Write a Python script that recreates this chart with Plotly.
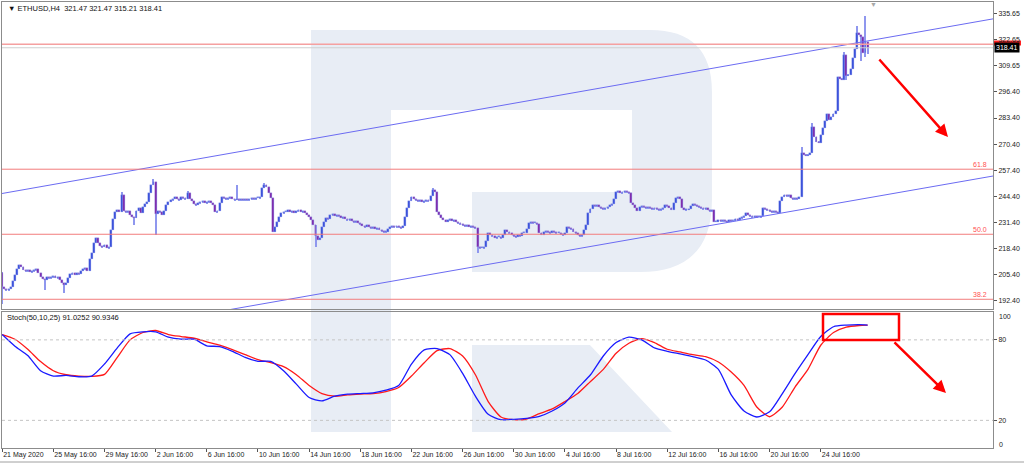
import pandas as pd
import plotly.graph_objects as go

# ---------------- data ----------------
HEADER = "\u25bc ETHUSD,H4\u00a0 321.47 321.47 315.21 318.41"
STOCH_HEADER = "Stoch(50,10,25) 91.0252 90.9346"
LAST_BAR_TIME = "2020-07-28 08:00"
FIRST_OPEN = 206.0

CLOSE = [
    199, 198, 197.5, 198, 199, 202, 205, 208, 210, 209,
    207.5, 207, 207.5, 206.5, 207, 207.5, 208, 206, 204, 203,
    202.5, 204, 203.5, 204, 204.5, 203.5, 204, 202.5, 201, 200,
    201, 203.5, 205.5, 206, 205, 206, 205.5, 207, 208, 208.5,
    207, 213, 216, 221, 223.5, 221, 219.5, 219, 220, 218.5,
    219, 227.5, 233, 236.5, 237.5, 236.5, 245, 237, 236.5, 237,
    235, 234, 233.5, 237, 238.5, 236, 239, 240.5, 241.5, 246,
    250, 251.5, 235.5, 237, 236.5, 235, 237, 240, 241.5, 242.5,
    243, 244, 243, 242.5, 244, 243.5, 243, 246, 243, 242,
    240.5, 240, 241, 241.5, 242, 241, 241.5, 242, 241, 240,
    236.5, 237, 241, 244, 243.5, 243, 243.5, 244, 243, 242.5,
    243, 242.5, 243, 242.5, 243, 242.5, 243, 243.5, 243, 243.5,
    243.5, 244, 248.5, 250, 249, 246, 243.5, 226.5, 229, 231.5,
    234, 236, 236.5, 236.5, 237.5, 236.5, 237, 236, 237, 237.5,
    236.5, 237, 236, 235, 234, 232.5, 230, 224.5, 222.5, 223.5,
    229, 231.5, 233.5, 233, 235, 235.5, 234.5, 235, 234.5, 233.5,
    234, 233, 232.5, 233, 232, 231.5, 232, 231, 230.5, 229.5,
    229, 230, 229, 228.5, 229, 228, 228.5, 227.5, 227, 226.5,
    226.8, 228, 229, 229.5, 229, 229.5, 229, 228.5, 229.5, 234,
    238.5, 242, 244, 243, 242.5, 242, 242.5, 241.5, 242, 242.5,
    242, 244.5, 247.5, 246.5, 236.5, 235, 233.5, 232.5, 231.5, 232.5,
    233, 232, 232.5, 231.5, 231, 230.5, 230, 229.5, 230, 229,
    229.5, 229, 228.5, 219, 218.5, 218.5, 219, 222, 226, 225,
    224.5, 223.5, 224, 224, 223.5, 225, 227.5, 226.5, 226, 225,
    224.5, 224, 225, 224.5, 226, 226, 228, 231, 231.5, 231,
    231, 230.5, 226, 225, 226.5, 227, 226.5, 226, 227, 226.5,
    226, 226, 225.5, 225, 226, 229, 228.5, 228, 226.5, 226,
    225, 224.5, 225, 227.5, 230, 236, 238, 240, 239.5, 240,
    239, 238.5, 238, 238.5, 239, 240, 240.5, 243, 246.5, 247,
    246, 246.5, 247, 246.5, 246, 241, 240, 238.5, 237, 239,
    239.5, 239, 238.5, 239, 238.5, 238, 238.5, 238, 237.5, 238,
    238.5, 240, 239.5, 238.5, 237.5, 241, 243.5, 244, 243, 238.5,
    237.5, 237.8, 238, 239.5, 240.5, 240, 239.5, 239, 238.5, 238,
    238.5, 237.5, 237, 237.5, 231.5, 231.5, 232.5, 232, 232.5, 232,
    231.5, 232.5, 232, 232, 233, 232.5, 233.5, 234, 234.5, 236,
    235, 234.5, 234, 234.5, 234, 234, 234.5, 238.5, 238, 237.5,
    237, 236.5, 237, 236.5, 236, 242, 244, 245, 244.5, 245,
    243.5, 243, 243.5, 243, 244, 266, 265, 264.5, 265, 266,
    279, 274, 271.5, 271, 275, 278.5, 282, 285.5, 282.5, 284,
    285.5, 287, 304, 303, 302.5, 315, 304.5, 305, 308, 313.5,
    318, 326, 325, 324, 316, 321.47, 318.41,
]
HIGH_WICKS = {0: 206.5, 56: 246.6, 71: 253.0, 87: 247.0, 110: 250.0, 123: 251.0,
              202: 248.5, 375: 269.0, 380: 281.0, 395: 316.5, 401: 329.0,
              405: 334.0, 406: 321.47}
LOW_WICKS = {0: 191.0, 20: 197.6, 29: 196.0, 62: 230.0, 72: 225.0, 147: 219.0,
             223: 216.0, 396: 302.5, 403: 312.0, 405: 314.0, 406: 315.21}

STOCH_MAIN = [84, 75.3, 68.3, 57, 53, 53.5, 52.5, 53, 62, 74, 84.5, 86, 86, 82,
              80.5, 80.5, 75.6, 75, 71.5, 67, 64, 64, 57, 47, 37, 34.5, 38, 39.5,
              40, 40.5, 42.5, 46, 62, 72.5, 73.5, 69, 55, 38, 24.5, 20.5, 20.8,
              21.5, 23, 27, 33, 44, 54, 68, 78, 82, 80, 74, 71.5, 69.5, 67.5, 65,
              58, 39, 27, 22.5, 26.4, 40, 55, 69, 82.5, 89.8, 91, 91.3, 91.03]
STOCH_SIGNAL = [84, 80.5, 73, 63.8, 57, 54, 53, 52.8, 54.3, 67, 80, 85.5, 87, 84,
                82.5, 81.2, 78.5, 76, 72.8, 69, 65.3, 63, 60, 54, 46, 40, 38, 39,
                39.6, 40, 41.5, 44.5, 53, 63, 72, 73.5, 68, 54, 34, 22.5, 20.5, 21,
                25, 28.5, 34, 40, 49, 58, 70, 77.5, 81, 78, 73, 71, 69, 67.5, 63.5,
                56, 46, 30, 22.7, 30, 45, 58, 76, 85.5, 89.5, 90.7, 90.93]

PRICE_TICKS = [192.40, 205.40, 218.40, 231.40, 244.40, 257.40, 270.40, 283.40,
               296.40, 309.65, 322.65, 335.65]
STOCH_TICKS = [20, 80]
STOCH_EDGE_LABELS = ["100", "0"]
TIME_TICKS = ["2020-05-21 16:00", "2020-05-25 16:00", "2020-05-29 16:00",
              "2020-06-02 16:00", "2020-06-06 16:00", "2020-06-10 16:00",
              "2020-06-14 16:00", "2020-06-18 16:00", "2020-06-22 16:00",
              "2020-06-26 16:00", "2020-06-30 16:00", "2020-07-04 16:00",
              "2020-07-08 16:00", "2020-07-12 16:00", "2020-07-16 16:00",
              "2020-07-20 16:00", "2020-07-24 16:00"]
TIME_LABELS = ["21 May 2020", "25 May 16:00", "29 May 16:00", "2 Jun 16:00",
               "6 Jun 16:00", "10 Jun 16:00", "14 Jun 16:00", "18 Jun 16:00",
               "22 Jun 16:00", "26 Jun 16:00", "30 Jun 16:00", "4 Jul 16:00",
               "8 Jul 16:00", "12 Jul 16:00", "16 Jul 16:00", "20 Jul 16:00",
               "24 Jul 16:00"]

FIB_NAMES = ["61.8", "50.0", "38.2"]
FIB_PRICES = [257.9, 225.5, 193.1]
ASK_LEVEL = 320.2
BID_LEVEL = 318.41
X_RANGE = ["2020-05-21 15:40", "2020-08-07 03:15"]
UPPER_CHANNEL = [245.8, 332.8]
LOWER_CHANNEL = [168.1, 254.5]

# ---------------- build ----------------
W, H = 1024, 464
ML, MR, MT, MB = 2, 31, 2, 16
PW, PH = W - ML - MR, H - MT - MB


def px(x):
    return (x - ML) / PW


def py(y):
    return (H - MB - y) / PH


def P(x, y):
    return f"{px(x):.4f},{py(y):.4f}"


dates = pd.date_range(end=LAST_BAR_TIME, periods=len(CLOSE), freq="4h")
opens = [FIRST_OPEN] + CLOSE[:-1]
highs = [max(o, c) for o, c in zip(opens, CLOSE)]
lows = [min(o, c) for o, c in zip(opens, CLOSE)]
for k, v in HIGH_WICKS.items():
    highs[k] = v
for k, v in LOW_WICKS.items():
    lows[k] = v

bar_ms = 4 * 3600 * 1000
body_base = [min(o, c) for o, c in zip(opens, CLOSE)]
body_h = [max(abs(c - o), 0.5) for o, c in zip(opens, CLOSE)]
body_col = ["#3049d8" if c >= o else "#7d1fa5" for o, c in zip(opens, CLOSE)]

fig = go.Figure()

# wicks
fig.add_trace(go.Bar(x=dates, y=[h - l for h, l in zip(highs, lows)], base=lows,
                     width=bar_ms * 0.5, marker=dict(color="#8f97ee", line=dict(width=0)),
                     hoverinfo="skip", xaxis="x", yaxis="y"))
# bodies (with a thin light outline, like the terminal's candle halo)
fig.add_trace(go.Bar(x=dates, y=body_h, base=body_base, width=bar_ms * 0.9,
                     marker=dict(color=body_col, line=dict(width=0.4, color="#9aa2f0")),
                     hoverinfo="skip", xaxis="x", yaxis="y"))

# channel lines
fig.add_trace(go.Scatter(x=X_RANGE, y=UPPER_CHANNEL, mode="lines",
                         line=dict(color="#6b6bf2", width=1), hoverinfo="skip",
                         xaxis="x", yaxis="y"))
fig.add_trace(go.Scatter(x=X_RANGE, y=LOWER_CHANNEL, mode="lines",
                         line=dict(color="#6b6bf2", width=1), hoverinfo="skip",
                         xaxis="x", yaxis="y"))

# stochastic
stoch_t = list(dates[::6]) + [dates[-1]]
fig.add_trace(go.Scatter(x=stoch_t, y=STOCH_SIGNAL, mode="lines",
                         line=dict(color="#ff1a1a", width=1.3, shape="spline", smoothing=0.6),
                         hoverinfo="skip", xaxis="x2", yaxis="y2"))
fig.add_trace(go.Scatter(x=stoch_t, y=STOCH_MAIN, mode="lines",
                         line=dict(color="#1a1aff", width=1.3, shape="spline", smoothing=0.6),
                         hoverinfo="skip", xaxis="x2", yaxis="y2"))

shapes = []
# watermark
wm = "#e8edf5"
r_path = ("M" + P(311, 432) + " L" + P(311, 30) + " L" + P(650, 30) +
          " Q" + P(712, 30) + " " + P(712, 92) + " L" + P(712, 200) +
          " Q" + P(712, 272) + " " + P(640, 272) + " L" + P(472, 272) +
          " L" + P(472, 192) + " L" + P(632, 192) + " L" + P(632, 110) +
          " L" + P(391, 110) + " L" + P(391, 432) + " Z")
shapes.append(dict(type="path", path=r_path, xref="paper", yref="paper",
                   fillcolor=wm, line=dict(width=0), layer="below"))
leg_path = ("M" + P(472, 345) + " L" + P(590, 345) + " L" + P(672, 432) +
            " L" + P(472, 432) + " Z")
shapes.append(dict(type="path", path=leg_path, xref="paper", yref="paper",
                   fillcolor=wm, line=dict(width=0), layer="below"))

# fib levels
for p in FIB_PRICES:
    shapes.append(dict(type="line", xref="paper", x0=0, x1=1, yref="y", y0=p, y1=p,
                       line=dict(color="#f27c7c", width=1), layer="above"))
# ask / bid
shapes.append(dict(type="line", xref="paper", x0=0, x1=1, yref="y", y0=ASK_LEVEL,
                   y1=ASK_LEVEL, line=dict(color="#f5a0a0", width=1.5)))
shapes.append(dict(type="line", xref="paper", x0=0, x1=1, yref="y", y0=BID_LEVEL,
                   y1=BID_LEVEL, line=dict(color="#cfcfcf", width=1)))
# stochastic levels
for lv in STOCH_TICKS:
    shapes.append(dict(type="line", xref="paper", x0=0, x1=1, yref="y2", y0=lv, y1=lv,
                       line=dict(color="#c4c4c4", width=1, dash="dot")))
# red box in stoch
shapes.append(dict(type="rect", xref="paper", yref="paper", x0=px(823), x1=px(899),
                   y0=py(340), y1=py(314), line=dict(color="#ff0000", width=2.5)))
# red ask marker on the price scale
shapes.append(dict(type="rect", xref="paper", yref="paper", x0=px(994), x1=px(1021),
                   y0=py(45.5), y1=py(40.5), fillcolor="#ff2020", line=dict(width=0),
                   layer="below"))
# outer window edge at the bottom
shapes.append(dict(type="line", xref="paper", yref="paper", x0=px(0), x1=px(1024),
                   y0=py(462), y1=py(462), line=dict(color="#a0a0a0", width=1)))

fnt = "Liberation Sans, Arial, sans-serif"
ann = []
ann.append(dict(text=HEADER, xref="paper", yref="paper", x=px(6), y=py(8),
                xanchor="left", yanchor="middle", showarrow=False,
                font=dict(family=fnt, size=7.5, color="#111")))
ann.append(dict(text=STOCH_HEADER, xref="paper", yref="paper", x=px(5), y=py(317.5),
                xanchor="left", yanchor="middle", showarrow=False,
                font=dict(family=fnt, size=7.5, color="#111")))
for name, p in zip(FIB_NAMES, FIB_PRICES):
    ann.append(dict(text=name, xref="paper", yref="y", x=px(989), y=p,
                    xanchor="right", yanchor="bottom", showarrow=False, yshift=-1,
                    font=dict(family=fnt, size=7, color="#ff5050")))
ann.append(dict(text=f"{BID_LEVEL:.2f}", xref="paper", yref="y", x=px(994), y=BID_LEVEL,
                xanchor="left", yanchor="middle", showarrow=False, bgcolor="#000000",
                borderpad=1, font=dict(family=fnt, size=7, color="#ffffff")))
ann.append(dict(text="\u25bc", xref="paper", yref="paper", x=px(873), y=py(4),
                xanchor="center", yanchor="middle", showarrow=False,
                font=dict(family=fnt, size=7, color="#a8a8a8")))
# edge labels of the oscillator scale (terminal draws them inside the pane)
for lab, ypix in zip(STOCH_EDGE_LABELS, (317, 444)):
    ann.append(dict(text="<span>" + lab + "</span>", xref="paper", yref="paper",
                    x=px(997), y=py(ypix), xanchor="left", yanchor="middle",
                    showarrow=False, font=dict(family=fnt, size=7, color="#222")))
# arrows
ann.append(dict(text="", xref="paper", yref="paper", x=px(948), y=py(137),
                ax=878 - 948, ay=58 - 137, showarrow=True, arrowhead=2, arrowsize=1,
                arrowwidth=2.5, arrowcolor="#ff0000", standoff=0, startstandoff=0))
ann.append(dict(text="", xref="paper", yref="paper", x=px(946), y=py(393),
                ax=893 - 946, ay=341 - 393, showarrow=True, arrowhead=2, arrowsize=1,
                arrowwidth=2.5, arrowcolor="#ff0000", standoff=0, startstandoff=0))

border = "#8c8c8c"
tickfont = dict(family=fnt, size=7, color="#222")
price_top = 2
price_bot = 309
stoch_top = 311.7

fig.update_layout(
    width=W, height=H, margin=dict(l=ML, r=MR, t=MT, b=MB, autoexpand=False),
    paper_bgcolor="#ffffff", plot_bgcolor="rgba(0,0,0,0)",
    showlegend=False, barmode="overlay", bargap=0,
    shapes=shapes, annotations=ann,
    xaxis=dict(type="date", range=X_RANGE, anchor="y", showticklabels=False,
               showgrid=False, zeroline=False, showline=True, mirror=True,
               linecolor=border, linewidth=1, ticks="", automargin=False),
    xaxis2=dict(type="date", range=X_RANGE, anchor="y2", matches="x",
                showgrid=False, zeroline=False, showline=True, mirror=True,
                linecolor=border, linewidth=1, tickvals=TIME_TICKS, ticktext=TIME_LABELS,
                ticks="outside", ticklen=3, tickcolor="#555", automargin=False,
                ticklabelposition="outside right", tickfont=tickfont, tickangle=0),
    yaxis=dict(domain=[py(price_bot), py(price_top)], range=[188.26, 341.2],
               side="right", anchor="x", showgrid=False, zeroline=False,
               showline=True, mirror=True, linecolor=border, linewidth=1,
               tickvals=PRICE_TICKS, ticktext=[f"{v:.2f}" for v in PRICE_TICKS],
               ticks="outside", ticklen=3, tickcolor="#555", tickfont=tickfont,
               automargin=False),
    yaxis2=dict(domain=[0, py(stoch_top)], range=[-0.6, 101], side="right", anchor="x2",
                showgrid=False, zeroline=False, showline=True, mirror=True,
                linecolor=border, linewidth=1, tickvals=STOCH_TICKS,
                ticktext=[str(v) for v in STOCH_TICKS], ticks="outside", ticklen=3,
                tickcolor="#555", tickfont=tickfont, automargin=False),
)

fig.write_html("out.html", config={"displayModeBar": False},
               post_script="document.body.style.margin='0';"
                           "document.body.style.overflow='hidden';")
